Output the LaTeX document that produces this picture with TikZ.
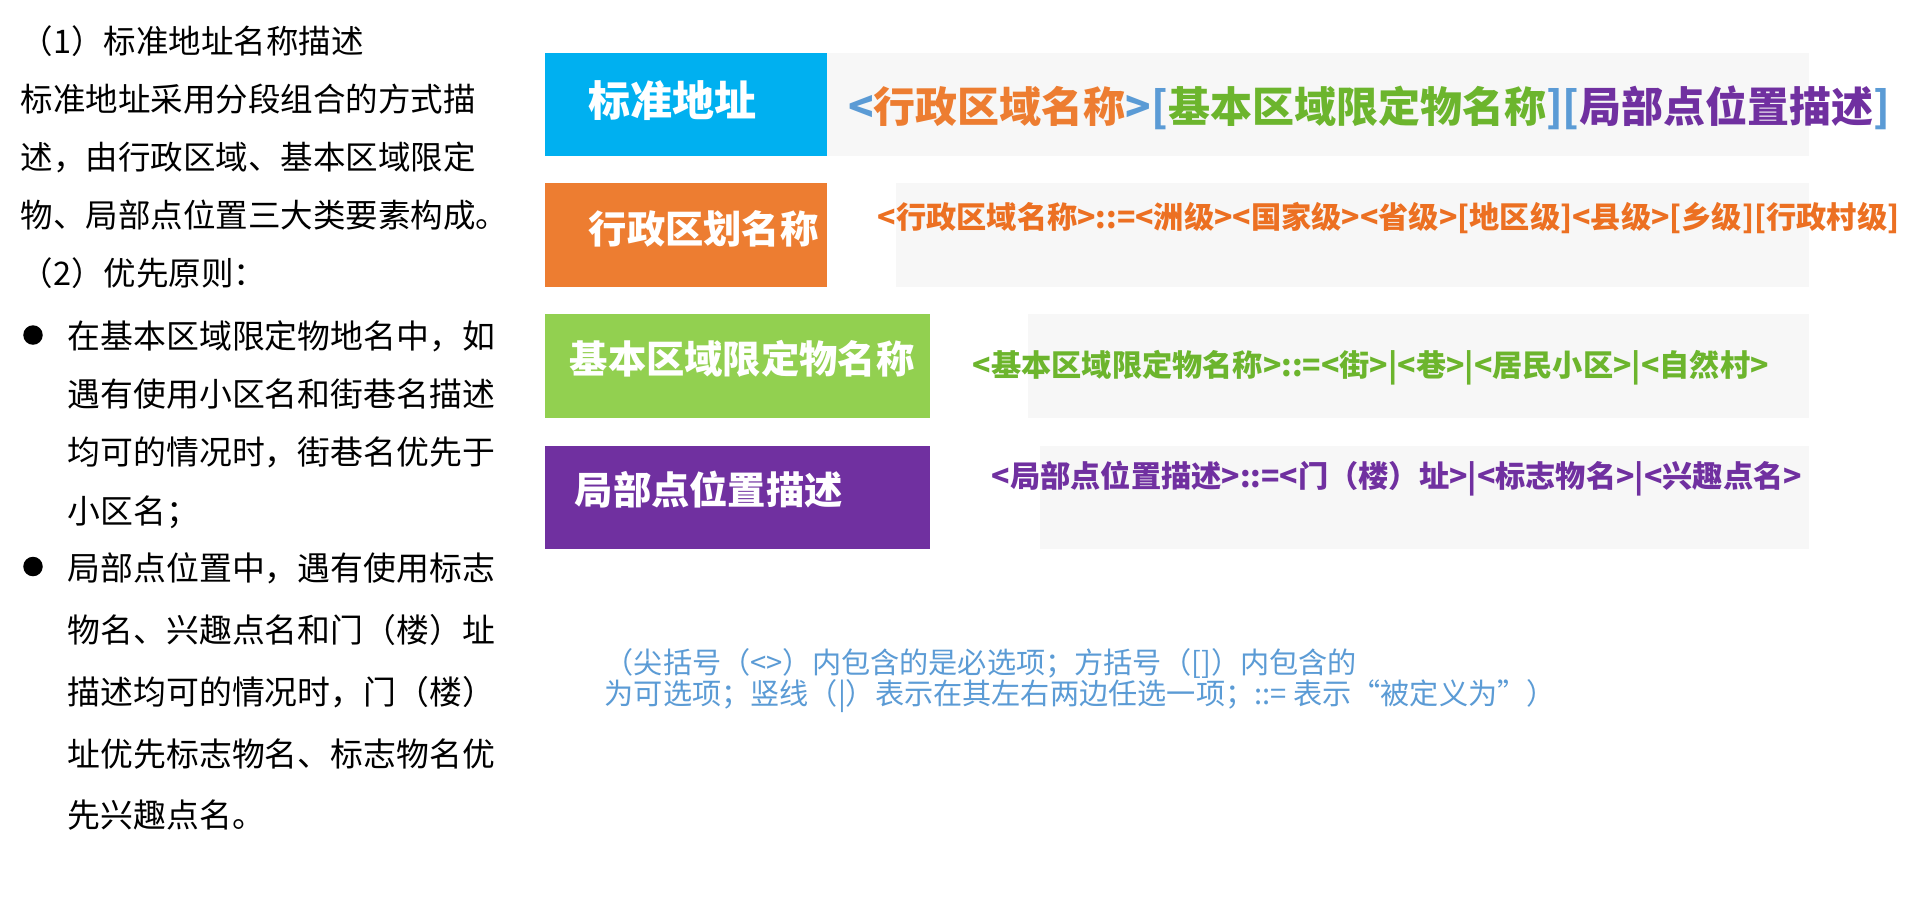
\documentclass[tikz,border=0pt]{standalone}
\usepackage{fontspec}
\setmainfont{Noto Sans CJK SC}
\usetikzlibrary{positioning}
\definecolor{cajaazul}{HTML}{00B0F0}
\definecolor{cajanaranja}{HTML}{ED7D31}
\definecolor{cajaverde}{HTML}{92D050}
\definecolor{cajamorada}{HTML}{7030A0}
\definecolor{textonaranja}{HTML}{EC7022}
\definecolor{textoverde}{HTML}{6CB52D}
\definecolor{corchete}{HTML}{5B9BD5}
\definecolor{franja}{HTML}{F7F7F7}
\begin{document}
\begin{tikzpicture}[
        % Nombres de cada parte (texto blanco sobre la caja de color)
        caja/.style={anchor=west, inner sep=0pt, text=white, font=\bfseries\fontsize{10.9}{12}\selectfont},
        % Definiciones sobre la franja gris
        regla/.style={anchor=west, inner sep=0pt, font=\bfseries\fontsize{8.6}{9}\selectfont},
        % Texto de la columna izquierda
        texto/.style={anchor=north west, inner sep=0pt, align=left, font=\fontsize{9.25}{16.5}\selectfont},
        punto/.style={circle, fill=black, inner sep=0pt, minimum size=0.195cm}
    ]
        \fill[white] (0,0) rectangle (19.30,-9.03);
        \useasboundingbox (0,0) rectangle (19.30,-9.03);

        % Cajas de color y franjas grises
        \fill[cajaazul] (5.45,-0.53) rectangle (8.27,-1.56);
        \fill[franja] (8.27,-0.53) rectangle (18.09,-1.56);
        \fill[cajanaranja] (5.45,-1.83) rectangle (8.27,-2.87);
        \fill[franja] (8.96,-1.83) rectangle (18.09,-2.87);
        \fill[cajaverde] (5.45,-3.14) rectangle (9.30,-4.18);
        \fill[franja] (10.28,-3.14) rectangle (18.09,-4.18);
        \fill[cajamorada] (5.45,-4.46) rectangle (9.30,-5.49);
        \fill[franja] (10.40,-4.46) rectangle (18.09,-5.49);

        % Nombres de las partes
        \node[caja, font=\bfseries\fontsize{11.95}{13}\selectfont] (bzdz) at (5.88,-1.01) {标准地址};
        \node[caja] (xzqh) at (5.88,-2.29) {行政区划名称};
        \node[caja] (jbqy) at (5.69,-3.59) {基本区域限定物名称};
        \node[caja] (jbdw) at (5.74,-4.90) {局部点位置描述};

        % Definiciones de cada parte
        \node[regla, font=\bfseries\fontsize{11.95}{13}\selectfont] (formula) at (8.475,-1.08) {\textcolor{corchete}{<}\textcolor{cajanaranja}{行政区域名称}\textcolor{corchete}{>[}\textcolor{textoverde}{基本区域限定物名称}\textcolor{corchete}{][}\textcolor{cajamorada}{局部点位置描述}\textcolor{corchete}{]}};
        \node[regla, text=textonaranja] (defxz) at (8.77,-2.18) {<行政区域名称>::=<洲级><国家级><省级>[地区级]<县级>[乡级][行政村级]};
        \node[regla, text=textoverde] (defjb) at (9.72,-3.68) {<基本区域限定物名称>::=<街>|<巷>|<居民小区>|<自然村>};
        \node[regla, text=cajamorada] (defdw) at (9.91,-4.79) {<局部点位置描述>::=<门（楼）址>|<标志物名>|<兴趣点名>};

        % Nota al pie
        \node[texto, text=corchete, font=\fontsize{8.3}{8.82}\selectfont] (nota) at (6.04,-6.48) {（尖括号（<>）内包含的是必选项；方括号（[]）内包含的\\为可选项；竖线（|）表示在其左右两边任选一项；::= 表示“被定义为”）};

        % Columna izquierda
        \node[texto] (parrafo) at (0.20,-0.25) {（1）标准地址名称描述\\标准地址采用分段组合的方式描\\述，由行政区域、基本区域限定\\物、局部点位置三大类要素构成。\\（2）优先原则：};
        \node[punto] (p1) at (0.33,-3.35) {};
        \node[texto, font=\fontsize{9.35}{16.6}\selectfont] (vineta1) at (0.67,-3.195) {在基本区域限定物地名中，如\\遇有使用小区名和街巷名描述\\均可的情况时，街巷名优先于\\小区名；};
        \node[punto] (p2) at (0.33,-5.665) {};
        \node[texto, font=\fontsize{9.35}{17.6}\selectfont] (vineta2) at (0.67,-5.52) {局部点位置中，遇有使用标志\\物名、兴趣点名和门（楼）址\\描述均可的情况时，门（楼）\\址优先标志物名、标志物名优\\先兴趣点名。};

    \end{tikzpicture}
\end{document}
